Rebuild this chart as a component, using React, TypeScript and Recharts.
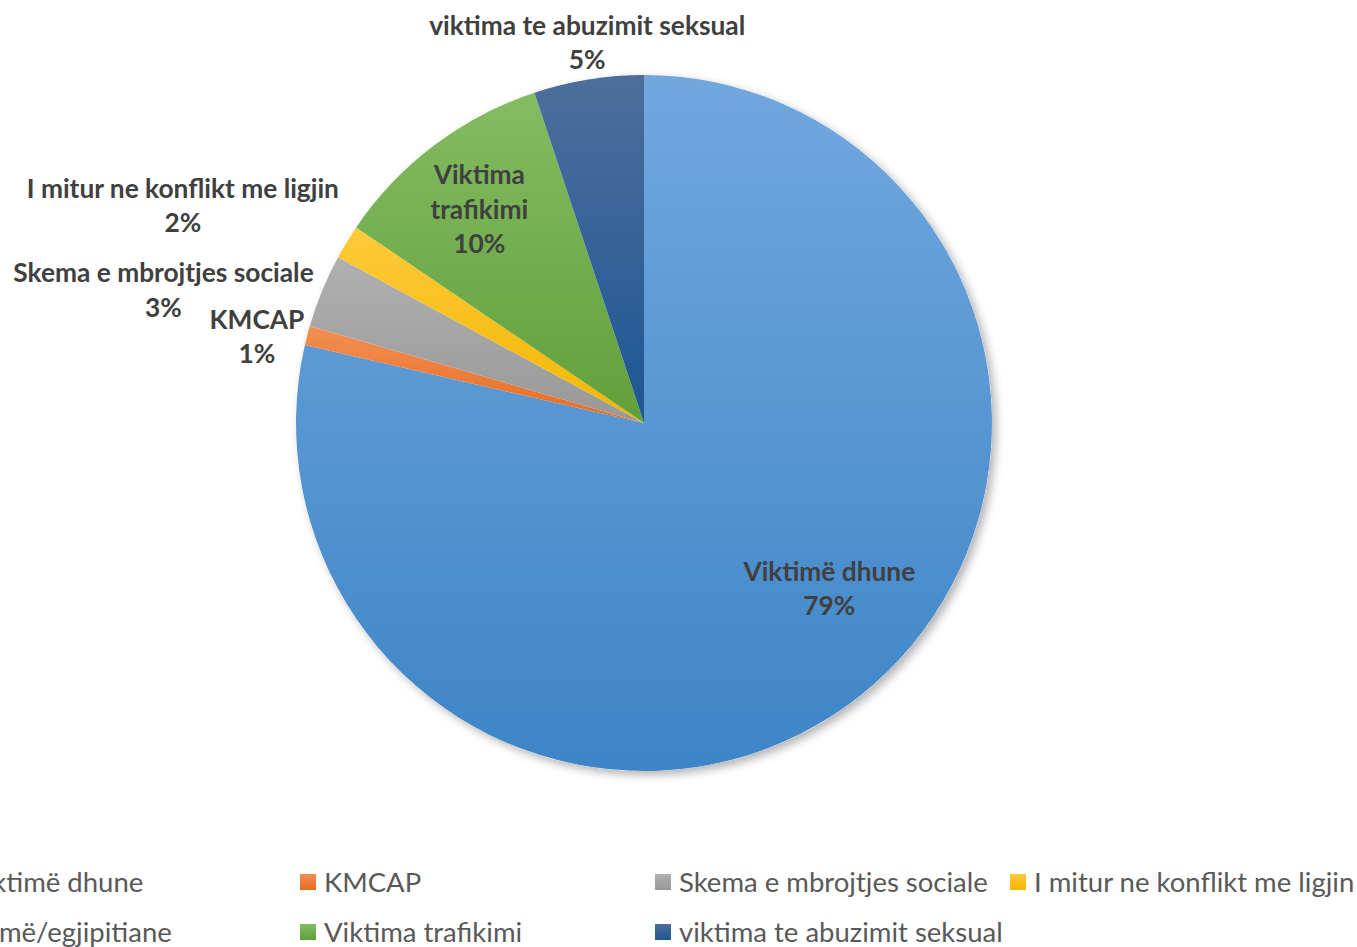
import React from 'react';
import { PieChart, Pie, Cell, Legend } from 'recharts';

const CATEGORIES = [
  'Viktimë dhune',
  'KMCAP',
  'Skema e mbrojtjes sociale',
  'I mitur ne konflikt me ligjin',
  'Romë/egjipitiane',
  'Viktima trafikimi',
  'viktima te abuzimit seksual',
];
const VALUES = [78.6, 0.9, 3.4, 1.6, 0, 10.4, 5.1];
const COLORS_TOP = ['#72a7de', '#f48f55', '#b0b0b0', '#ffca3a', '#5b86cf', '#84bc62', '#4d6e9c'];
const COLORS_BOTTOM = ['#3d85c7', '#e46c1f', '#989898', '#f2b600', '#3a66b5', '#61a03a', '#1d5793'];

// label placement style: angle shift from slice mid-angle, radius factor, wrap words
const LABEL_LAYOUT = [
  { da: 9.8, k: 0.713, wrap: false },
  { da: 1.9, k: 1.14, wrap: false },
  { da: 6.8, k: 1.433, wrap: false },
  { da: 6.0, k: 1.466, wrap: false },
  { da: 0, k: 1.1, wrap: false },
  { da: 0.5, k: 0.776, wrap: true },
  { da: -0.7, k: 1.107, wrap: false },
];

const LEGEND_ROWS = [
  [0, 1, 2, 3],
  [4, 5, 6],
];

const FONT = 'Lato, "Noto Sans", sans-serif';
const RAD = Math.PI / 180;

const data = CATEGORIES.map((name, i) => ({ name, value: VALUES[i] }));
const shadowData = [{ name: 'shadow', value: 1 }];

const renderLabel = (props: any) => {
  const { cx, cy, midAngle, outerRadius, percent, index, value } = props;
  if (!value) return null;
  const lay = LABEL_LAYOUT[index];
  const ang = (midAngle + lay.da) * RAD;
  const x = cx + Math.cos(-ang) * outerRadius * lay.k;
  const y = cy + Math.sin(-ang) * outerRadius * lay.k;
  const name = CATEGORIES[index];
  const pct = `${Math.round(percent * 100)}%`;
  const lines = lay.wrap ? [...name.split(' '), pct] : [name, pct];
  const lh = 34.5;
  return (
    <text
      key={`lbl-${index}`}
      x={x}
      y={y}
      textAnchor="middle"
      fill="#404040"
      style={{ fontFamily: FONT, fontWeight: 700, fontSize: 26.3 }}
    >
      {lines.map((ln, i) => (
        <tspan key={i} x={x} y={y + (i - (lines.length - 1) / 2) * lh} dominantBaseline="central">
          {ln}
        </tspan>
      ))}
    </text>
  );
};

const COL_X = [-57, 300, 655, 1010];
const ROW_Y = [873, 923];

const renderLegend = () => (
  <div style={{ position: 'relative', width: 1357, height: 90 }}>
    {LEGEND_ROWS.map((row, r) =>
      row.map((idx, c) => (
        <div
          key={`${r}-${c}`}
          style={{
            position: 'absolute',
            left: COL_X[c],
            top: ROW_Y[r] - 858,
            height: 17,
            display: 'flex',
            alignItems: 'center',
            whiteSpace: 'nowrap',
          }}
        >
          <span
            style={{
              display: 'inline-block',
              width: 16,
              height: 16,
              flex: '0 0 16px',
              background: `linear-gradient(${COLORS_TOP[idx]}, ${COLORS_BOTTOM[idx]})`,
              marginRight: 8,
            }}
          />
          <span style={{ fontFamily: FONT, fontSize: 27.5, color: '#595959', lineHeight: '17px' }}>
            {CATEGORIES[idx]}
          </span>
        </div>
      ))
    )}
  </div>
);

export default function App() {
  return (
    <div style={{ position: 'absolute', left: 0, top: 0, width: 1357, height: 947, overflow: 'hidden', background: '#fff' }}>
      <PieChart width={1357} height={947} margin={{ top: 0, right: 0, bottom: 0, left: 0 }}>
        <defs>
          {COLORS_TOP.map((c, i) => (
            <linearGradient key={i} id={`grad${i}`} x1="0" y1="0" x2="0" y2="1">
              <stop offset="0%" stopColor={c} />
              <stop offset="100%" stopColor={COLORS_BOTTOM[i]} />
            </linearGradient>
          ))}
          <filter id="pieShadow" x="-10%" y="-10%" width="130%" height="130%">
            <feDropShadow dx="4" dy="4" stdDeviation="5" floodColor="#000" floodOpacity="0.3" />
          </filter>
        </defs>
        <Pie
          data={shadowData}
          dataKey="value"
          cx={644}
          cy={423}
          outerRadius={348}
          startAngle={90}
          endAngle={-270}
          stroke="none"
          isAnimationActive={false}
          legendType="none"
        >
          <Cell fill="#ffffff" filter="url(#pieShadow)" />
        </Pie>
        <Pie
          data={data}
          dataKey="value"
          nameKey="name"
          cx={644}
          cy={423}
          outerRadius={348}
          startAngle={90}
          endAngle={-270}
          stroke="none"
          label={renderLabel}
          labelLine={false}
          isAnimationActive={false}
        >
          {data.map((_, i) => (
            <Cell key={i} fill={`url(#grad${i})`} stroke="none" />
          ))}
        </Pie>
        <Legend
          content={renderLegend}
          wrapperStyle={{ position: 'absolute', left: 0, top: 858, width: 1357, height: 90 }}
        />
      </PieChart>
    </div>
  );
}
